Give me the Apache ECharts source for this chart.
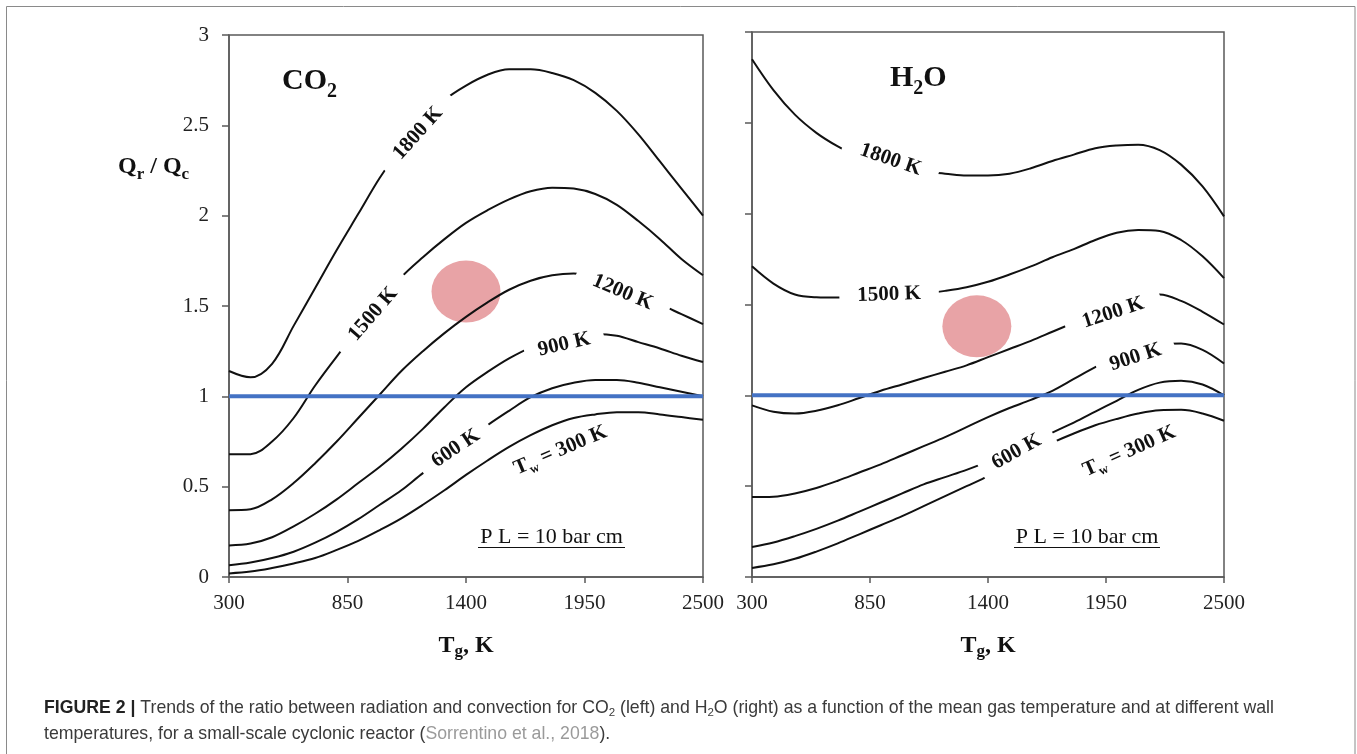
<!DOCTYPE html>
<html><head><meta charset="utf-8">
<script src="https://cdn.jsdelivr.net/npm/echarts@6/dist/echarts.min.js"></script>
<style>html,body{margin:0;padding:0;background:#fff}#c{width:1357px;height:754px}</style>
</head><body><div id="c"></div>
<script>
// ---------- data ----------
const tg = [300,400,500,600,700,800,900,1000,1100,1200,1300,1400,1500,1600,1700,1800,1900,2000,2100,2200,2300,2400,2500];
const xTicks = [300, 850, 1400, 1950, 2500];
const yTicks = [0, 0.5, 1, 1.5, 2, 2.5, 3];

const co2_1800 = [1.14,1.105,1.18,1.39,1.60,1.81,2.01,2.21,2.38,2.52,2.64,2.72,2.78,2.81,2.81,2.79,2.75,2.68,2.58,2.45,2.30,2.15,2.00];
const co2_1500 = [0.68,0.68,0.75,0.88,1.06,1.22,1.37,1.52,1.66,1.77,1.87,1.96,2.03,2.09,2.135,2.155,2.15,2.12,2.06,1.97,1.87,1.76,1.67];
const co2_1200 = [0.37,0.375,0.43,0.52,0.63,0.75,0.88,1.01,1.14,1.25,1.35,1.44,1.52,1.59,1.64,1.67,1.68,1.665,1.625,1.57,1.51,1.455,1.40];
const co2_900  = [0.175,0.185,0.22,0.28,0.35,0.43,0.52,0.61,0.71,0.82,0.94,1.05,1.135,1.21,1.27,1.31,1.335,1.345,1.335,1.30,1.265,1.225,1.19];
const co2_600  = [0.065,0.08,0.105,0.14,0.19,0.25,0.32,0.40,0.48,0.575,0.66,0.75,0.84,0.92,0.995,1.045,1.075,1.09,1.09,1.075,1.05,1.025,1.0];
const co2_300  = [0.02,0.03,0.05,0.075,0.105,0.15,0.20,0.26,0.325,0.40,0.48,0.565,0.645,0.72,0.785,0.84,0.88,0.90,0.912,0.912,0.90,0.885,0.87];

const h2o_1800 = [2.85,2.68,2.545,2.445,2.37,2.31,2.27,2.245,2.23,2.22,2.21,2.21,2.22,2.25,2.29,2.325,2.36,2.375,2.38,2.35,2.27,2.15,1.985];
const h2o_1500 = [1.71,1.615,1.555,1.54,1.538,1.54,1.545,1.55,1.56,1.575,1.595,1.625,1.665,1.71,1.76,1.805,1.855,1.895,1.91,1.905,1.855,1.765,1.645];
const h2o_1200 = [0.945,0.91,0.90,0.915,0.945,0.985,1.025,1.06,1.095,1.13,1.165,1.21,1.255,1.30,1.35,1.40,1.45,1.50,1.54,1.555,1.52,1.46,1.39];
const h2o_900  = [0.44,0.442,0.46,0.49,0.53,0.575,0.62,0.67,0.72,0.77,0.825,0.88,0.93,0.975,1.025,1.09,1.155,1.21,1.255,1.28,1.285,1.25,1.175];
const h2o_600  = [0.165,0.19,0.225,0.265,0.31,0.36,0.41,0.46,0.51,0.55,0.59,0.635,0.685,0.74,0.795,0.85,0.91,0.97,1.03,1.07,1.08,1.06,1.0];
const h2o_300  = [0.05,0.07,0.10,0.14,0.185,0.235,0.285,0.335,0.39,0.445,0.50,0.555,0.62,0.685,0.74,0.79,0.835,0.87,0.90,0.918,0.92,0.90,0.86];

const refT = [300, 2500];
const refV = [1, 1];

const co2Spot = [1400, 1.58];
const h2oSpot = [1348, 1.38];

const curveText = ['1800 K','1500 K','1200 K','900 K','600 K','Tw = 300 K'];
const co2LabelT = [1177, 969, 2127, 1856, 1352, 1841];
const co2LabelV = [2.456, 1.455, 1.576, 1.287, 0.712, 0.693];
const h2oLabelT = [946, 939, 1983, 2088, 1533, 2061];
const h2oLabelV = [2.297, 1.555, 1.455, 1.21, 0.69, 0.684];

// ---------- styles ----------
const serif = "'Liberation Serif','Times New Roman',serif";
const sans = "'Liberation Sans',Arial,sans-serif";
const axisCol = '#5a5a5a';
const co2Rot = [48, 49, -23, 13, 34, 23];
const h2oRot = [-19, 2, 18, 18, 29, 24];
const padH = [18, 18, 18, 14, 14, 0];

const pairs = arr => tg.map((t, i) => [t, arr[i]]);

function panelSeries(idx, curves, spot, labT, labV, rots) {
  const s = [];
  s.push({
    type: 'scatter', xAxisIndex: idx, yAxisIndex: idx, z: 1, silent: true,
    symbol: 'circle', symbolSize: [69, 62],
    itemStyle: { color: '#e8a3a6', opacity: 1 },
    data: [spot]
  });
  curves.forEach(c => s.push({
    type: 'line', xAxisIndex: idx, yAxisIndex: idx, z: 2, silent: true,
    smooth: 0.35, showSymbol: false, symbol: 'none',
    lineStyle: { color: '#111', width: 2 },
    data: pairs(c)
  }));
  s.push({
    type: 'line', xAxisIndex: idx, yAxisIndex: idx, z: 3, silent: true,
    showSymbol: false, symbol: 'none',
    lineStyle: { color: '#4472c4', width: 4 },
    data: refT.map((t, i) => [t, refV[i]])
  });
  s.push({
    type: 'scatter', xAxisIndex: idx, yAxisIndex: idx, z: 5, silent: true,
    symbolSize: 1, itemStyle: { color: '#fff', opacity: 1 },
    label: {
      show: true, position: 'inside', color: '#111', textBorderWidth: 0, opacity: 1,
      formatter: p => p.name.indexOf('Tw') === 0 ? '{b|T}{s|w}{b| = 300 K}' : '{a|' + p.name + '}',
      rich: {
        a: { fontFamily: serif, fontSize: 21, fontWeight: 'bold', color: '#111', textBorderWidth: 0, lineHeight: 24 },
        b: { fontFamily: serif, fontSize: 21, fontWeight: 'bold', color: '#111', textBorderWidth: 0, verticalAlign: 'top' },
        s: { fontFamily: serif, fontSize: 13, fontWeight: 'bold', color: '#111', textBorderWidth: 0, verticalAlign: 'top', padding: [11, 0, 0, 0] }
      }
    },
    data: curveText.map((n, i) => ({
      name: n, value: [labT[i], labV[i]],
      label: {
        rotate: rots[i],
        backgroundColor: padH[i] ? '#fff' : 'transparent',
        padding: [1, padH[i]]
      }
    }))
  });
  return s;
}

function xAx(idx) {
  return {
    type: 'value', gridIndex: idx, min: 300, max: 2500,
    axisLine: { show: true, onZero: false, lineStyle: { color: axisCol, width: 1.5 } },
    axisTick: { show: true, length: 6, customValues: xTicks, lineStyle: { color: axisCol, width: 1.5 } },
    axisLabel: { customValues: xTicks, showMinLabel: true, showMaxLabel: true,
      fontFamily: serif, fontSize: 21, color: '#222', margin: 16,
      formatter: v => String(xTicks.find(t => t === Math.round(v)) ?? Math.round(v)) },
    splitLine: { show: false }
  };
}
function yAx(idx, showLabel) {
  return {
    type: 'value', gridIndex: idx, min: 0, max: 3, interval: 0.5,
    axisLine: { show: true, onZero: false, lineStyle: { color: axisCol, width: 1.5 } },
    axisTick: { show: true, length: 7, lineStyle: { color: axisCol, width: 1.5 } },
    axisLabel: { show: showLabel, fontFamily: serif, fontSize: 21, color: '#222', margin: 20,
      showMinLabel: true, showMaxLabel: true,
      formatter: v => String(yTicks.find(t => Math.abs(t - v) < 1e-9) ?? v) },
    splitLine: { show: false }
  };
}

function gText(x, y, text, rich, align) {
  return {
    type: 'text', x: x, y: y, silent: true,
    style: { text: text, rich: rich, align: align, verticalAlign: 'middle' }
  };
}
// top-aligned tokens; subscript lowered with a top padding
const bigRich = (size, sub, drop) => ({
  m: { fontFamily: serif, fontSize: size, fontWeight: 'bold', fill: '#111', verticalAlign: 'top' },
  s: { fontFamily: serif, fontSize: sub, fontWeight: 'bold', fill: '#111', verticalAlign: 'top',
       padding: [Math.round(drop + 0.55 * (size - sub)), 0, 0, 0] }
});
const plRich = { p: { fontFamily: serif, fontSize: 22, fill: '#111' } };
const capRich = {
  b: { fontFamily: sans, fontSize: 17.7, fontWeight: 'bold', fill: '#222', verticalAlign: 'top' },
  t: { fontFamily: sans, fontSize: 17.7, fill: '#3a3a3a', verticalAlign: 'top' },
  s: { fontFamily: sans, fontSize: 11.5, fill: '#3a3a3a', verticalAlign: 'top', padding: [7, 0, 0, 0] },
  g: { fontFamily: sans, fontSize: 17.7, fill: '#9a9a9a', verticalAlign: 'top' }
};

const option = {
  backgroundColor: '#fff',
  animation: false,
  grid: [
    { left: 229, top: 35, width: 474, height: 542, show: true, borderColor: axisCol, borderWidth: 1.5, backgroundColor: 'transparent', outerBoundsMode: 'none' },
    { left: 752, top: 32, width: 472, height: 545, show: true, borderColor: axisCol, borderWidth: 1.5, backgroundColor: 'transparent', outerBoundsMode: 'none' }
  ],
  xAxis: [xAx(0), xAx(1)],
  yAxis: [yAx(0, true), yAx(1, false)],
  series: [
    ...panelSeries(0, [co2_1800, co2_1500, co2_1200, co2_900, co2_600, co2_300], co2Spot, co2LabelT, co2LabelV, co2Rot),
    ...panelSeries(1, [h2o_1800, h2o_1500, h2o_1200, h2o_900, h2o_600, h2o_300], h2oSpot, h2oLabelT, h2oLabelV, h2oRot)
  ],
  graphic: [
    { type: 'rect', silent: true, shape: { x: 6.5, y: 6.5, width: 1348.5, height: 800 },
      style: { fill: 'none', stroke: '#8a8a8a', lineWidth: 1 } },
    gText(282, 84, '{m|CO}{s|2}', bigRich(30, 20, 9), 'left'),
    gText(890, 81, '{m|H}{s|2}{m|O}', bigRich(30, 20, 9), 'left'),
    gText(118, 169, '{m|Q}{s|r}{m| / Q}{s|c}', bigRich(24, 17, 7), 'left'),
    gText(466, 647, '{m|T}{s|g}{m|, K}', bigRich(24, 17, 6), 'center'),
    gText(988, 647, '{m|T}{s|g}{m|, K}', bigRich(24, 17, 6), 'center'),
    gText(551.5, 537, '{p|P L = 10 bar cm}', plRich, 'center'),
    gText(1087, 537, '{p|P L = 10 bar cm}', plRich, 'center'),
    { type: 'line', silent: true, shape: { x1: 478, y1: 547.5, x2: 625, y2: 547.5 }, style: { stroke: '#111', lineWidth: 1 } },
    { type: 'line', silent: true, shape: { x1: 1014, y1: 547.5, x2: 1160, y2: 547.5 }, style: { stroke: '#111', lineWidth: 1 } },
    gText(44, 709, '{b|FIGURE 2 |}{t| Trends of the ratio between radiation and convection for CO}{s|2}{t| (left) and H}{s|2}{t|O (right) as a function of the mean gas temperature and at different wall}', capRich, 'left'),
    gText(44, 734, '{t|temperatures, for a small-scale cyclonic reactor (}{g|Sorrentino et al., 2018}{t|).}', capRich, 'left')
  ]
};

const chart = echarts.init(document.getElementById('c'), null, { renderer: 'canvas' });
chart.setOption(option);
</script>
</body></html>
